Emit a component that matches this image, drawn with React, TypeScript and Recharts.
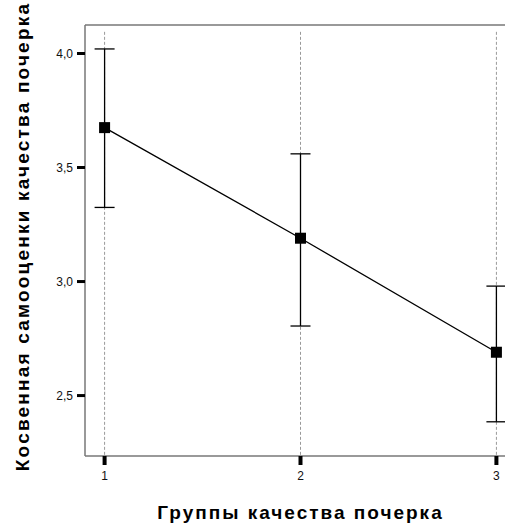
import React from "react";
import {
  ComposedChart, Line, XAxis, YAxis, ErrorBar, ReferenceLine, Label,
} from "recharts";

// groups of handwriting quality, means and 95% CI bounds
const groups = [1, 2, 3];
const means = [3.675, 3.19, 2.69];
const upper = [4.02, 3.56, 2.98];
const lower = [3.325, 2.805, 2.385];

const yTicks = [2.5, 3.0, 3.5, 4.0];
const xDomain = [0.9, 3.1];
const yDomain = [2.235, 4.125];

const data = groups.map((g, i) => ({
  group: g,
  mean: means[i],
  ci: [means[i] - lower[i], upper[i] - means[i]],
}));

const FONT = "'Liberation Sans', Arial, sans-serif";

const SquareDot = (props: any) => {
  const { cx, cy } = props;
  if (cx == null || cy == null) return null;
  return <rect x={cx - 5.5} y={cy - 5.5} width={11} height={11} fill="#000" />;
};

const YTitle = (props: any) => {
  const vb = props.viewBox || {};
  const cy = vb.y + vb.height / 2 - 4;
  return (
    <text
      transform={`translate(22, ${cy}) rotate(-90)`}
      textAnchor="middle"
      dominantBaseline="central"
      fontFamily={FONT}
      fontWeight="bold"
      fontSize={19}
      letterSpacing={2.2}
      fill="#000"
    >
      Косвенная самооценки качества почерка
    </text>
  );
};

const XTitle = (props: any) => {
  const vb = props.viewBox || {};
  const cx = vb.x + vb.width / 2;
  return (
    <text
      x={cx}
      y={519}
      textAnchor="middle"
      fontFamily={FONT}
      fontWeight="bold"
      fontSize={19}
      letterSpacing={2}
      fill="#000"
    >
      Группы качества почерка
    </text>
  );
};

export default function App() {
  return (
    <div
      style={{
        position: "fixed", left: 0, top: 0, width: 505, height: 525,
        overflow: "hidden", background: "#fff",
      }}
    >
      <ComposedChart
        width={530}
        height={525}
        data={data}
        margin={{ top: 25, right: 14, bottom: 0, left: 0 }}
        style={{ fontFamily: FONT }}
      >
        <XAxis
          dataKey="group"
          type="number"
          domain={xDomain}
          ticks={groups}
          height={69}
          stroke="#777"
          axisLine={{ stroke: "#777", strokeWidth: 1.5 }}
          tickLine={{ stroke: "#000", strokeWidth: 4 }}
          tickSize={9}
          tickMargin={6}
          tick={{ fill: "#111", fontSize: 12 }}
        >
          <Label content={<XTitle />} />
        </XAxis>
        <YAxis
          type="number"
          domain={yDomain}
          ticks={yTicks}
          width={85}
          allowDataOverflow
          axisLine={{ stroke: "#777", strokeWidth: 1.5 }}
          tickLine={{ stroke: "#000", strokeWidth: 3 }}
          tickSize={8}
          tickMargin={4}
          tick={{ fill: "#111", fontSize: 12 }}
          tickFormatter={(v: number) => v.toFixed(1).replace(".", ",")}
        >
          <Label content={<YTitle />} />
        </YAxis>
        {groups.map((g) => (
          <ReferenceLine
            key={g}
            segment={[{ x: g, y: yDomain[1] - 0.03 }, { x: g, y: yDomain[0] }]}
            stroke="#999"
            strokeDasharray="3 2"
          />
        ))}
        <ReferenceLine y={yDomain[1]} stroke="#777" strokeWidth={1.5} />
        <Line
          type="linear"
          dataKey="mean"
          stroke="#000"
          strokeWidth={1.3}
          dot={<SquareDot />}
          activeDot={false}
          isAnimationActive={false}
        >
          <ErrorBar dataKey="ci" width={10} stroke="#000" strokeWidth={1.3} isAnimationActive={false} />
        </Line>
      </ComposedChart>
    </div>
  );
}
